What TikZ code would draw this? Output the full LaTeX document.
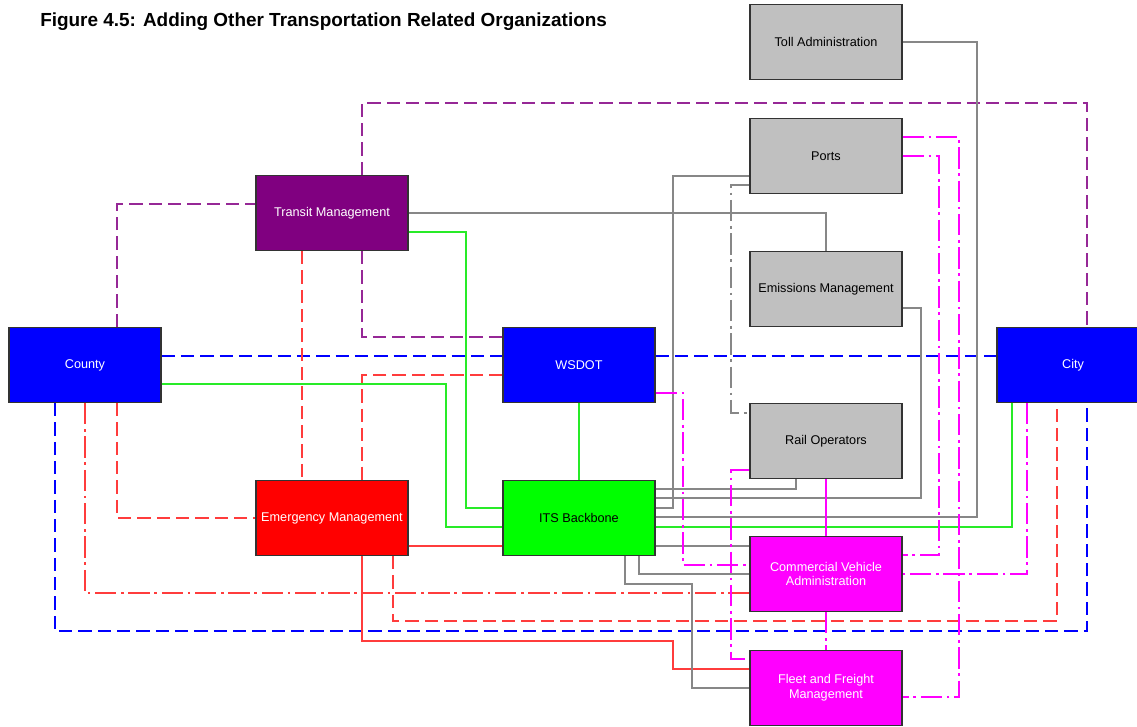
\documentclass[tikz,border=0pt]{standalone}
\usepackage{fontspec}
\setmainfont{Liberation Sans}

\definecolor{boxgrey}{RGB}{192,192,192}
\definecolor{boxpurple}{RGB}{128,0,128}
\definecolor{boxblue}{RGB}{0,0,255}
\definecolor{boxred}{RGB}{255,0,0}
\definecolor{boxgreen}{RGB}{0,255,0}
\definecolor{boxmagenta}{RGB}{255,0,255}
\definecolor{linegrey}{RGB}{135,135,135}
\definecolor{linepurple}{RGB}{150,40,150}
\definecolor{lineblue}{RGB}{0,0,255}
\definecolor{linered}{RGB}{255,60,60}
\definecolor{linegreen}{RGB}{40,235,40}
\definecolor{linemagenta}{RGB}{255,0,255}

\tikzset{%
  >=latex,
  box/.style={draw=black!80, line width=0.9pt, minimum width=114pt,
    minimum height=56.25pt, inner sep=1pt, align=center,
    font=\fontsize{9.5}{11}\selectfont},
  wire/.style={line width=0.85pt},
  dashlong/.style={dash pattern=on 10pt off 4.5pt},
  dashdotlong/.style={dash pattern=on 16pt off 3.5pt on 2pt off 3.5pt},
  kline/.style={wire, draw=linegrey},
  kdashdot/.style={wire, draw=linegrey, dashdotlong},
  pdash/.style={wire, draw=linepurple, dashlong},
  bdash/.style={wire, draw=lineblue, dashlong},
  rdash/.style={wire, draw=linered, dashlong},
  rdashdot/.style={wire, draw=linered, dashdotlong},
  rline/.style={wire, draw=linered},
  gline/.style={wire, draw=linegreen},
  mline/.style={wire, draw=linemagenta},
  mdashdot/.style={wire, draw=linemagenta, dashdotlong}
}

\begin{document}
\begin{tikzpicture}[x=0.75pt, y=-0.75pt]
     \clip (0,0) rectangle (1137,727);
     \node[anchor=west, inner sep=0pt, font=\fontsize{14.2}{16}\selectfont\bfseries] (title) at (40,22)
       {Figure 4.5: Adding Other Transportation Related Organizations};

     \node[box, fill=boxgrey] (toll) at (826,42) {Toll Administration};
     \node[box, fill=boxgrey] (ports) at (826,156) {Ports};
     \node[box, fill=boxpurple, text=white] (tm) at (332,213) {Transit Management};
     \node[box, fill=boxgrey] (emis) at (826,289) {Emissions Management};
     \node[box, fill=boxblue, text=white] (county) at (85,365) {County};
     \node[box, fill=boxblue, text=white] (wsdot) at (579,365) {WSDOT};
     \node[box, fill=boxblue, text=white] (city) at (1073,365) {City};
     \node[box, fill=boxgrey] (rail) at (826,441) {Rail Operators};
     \node[box, fill=boxred, text=white] (em) at (332,518) {Emergency Management};
     \node[box, fill=boxgreen] (its) at (579,518) {ITS Backbone};
     \node[box, fill=boxmagenta, text=white] (cva) at (826,574) {Commercial Vehicle\\Administration};
     \node[box, fill=boxmagenta, text=white] (ffm) at (826,688) {Fleet and Freight\\Management};

     % transit links
     \draw[pdash] (362,0 |- tm.north) |- (1087,103) -- (1087,0 |- city.north);
     \draw[pdash] (117,0 |- county.north) |- (tm.west |- 0,204);
     \draw[pdash] (362,0 |- tm.south) |- (wsdot.west |- 0,337);
     \draw[kline] (tm.east) -| (emis.north);
     \draw[gline] (tm.east |- 0,232) -| (466,508) -- (its.west |- 0,508);

     % agency links
     \draw[bdash] (county.east |- 0,356) -- (wsdot.west |- 0,356);
     \draw[bdash] (wsdot.east |- 0,356) -- (city.west |- 0,356);
     \draw[bdash] (55,0 |- county.south) |- (1087,631) -- (1087,0 |- city.south);
     \draw[gline] (county.east |- 0,384) -| (446,527) -- (its.west |- 0,527);
     \draw[gline] (wsdot.south) -- (its.north);
     \draw[gline] (its.east |- 0,527) -| (1012,0 |- city.south);

     % emergency links
     \draw[rdash] (302,0 |- tm.south) -- (302,0 |- em.north);
     \draw[rdash] (wsdot.west |- 0,375) -| (362,0 |- em.north);
     \draw[rdash] (117,0 |- county.south) |- (em.west);
     \draw[rdash] (393,0 |- em.south) |- (1057,621) -- (1057,0 |- city.south);
     \draw[rdashdot] (85,0 |- county.south) |- (cva.west |- 0,593);
     \draw[rline] (em.east |- 0,546) -- (its.west |- 0,546);
     \draw[rline] (362,0 |- em.south) |- (673,641) |- (ffm.west |- 0,669);

     % backbone links
     \draw[kline] (its.east |- 0,489) -| (796,0 |- rail.south);
     \draw[kline] (its.east |- 0,498) -| (921,308) -- (emis.east |- 0,308);
     \draw[kline] (its.east |- 0,508) -| (673,176) -- (ports.west |- 0,176);
     \draw[kline] (its.east |- 0,517) -| (977,0 |- toll.east) -- (toll.east);
     \draw[kline] (its.east |- 0,546) -- (cva.west |- 0,546);
     \draw[kline] (625,0 |- its.south) |- (692,584) |- (ffm.west |- 0,688);
     \draw[kline] (639,0 |- its.south) |- (cva.west |- 0,574);
     \draw[kdashdot] (ports.west |- 0,185) -| (731,413) -- (rail.west |- 0,413);

     % freight links
     \draw[mdashdot] (wsdot.east |- 0,393) -| (683,565) -- (cva.west |- 0,565);
     \draw[mdashdot] (rail.west |- 0,470) -| (731,659) -- (ffm.west |- 0,659);
     \draw[mline] (rail.south) -- (cva.north);
     \draw[mdashdot] (cva.south) -- (ffm.north);
     \draw[mdashdot] (ports.east |- 0,137) -| (959,697) -- (ffm.east |- 0,697);
     \draw[mdashdot] (ports.east |- 0,156) -| (939,555) -- (cva.east |- 0,555);
     \draw[mdashdot] (1027,0 |- city.south) |- (cva.east |- 0,574);

\end{tikzpicture}
\end{document}
